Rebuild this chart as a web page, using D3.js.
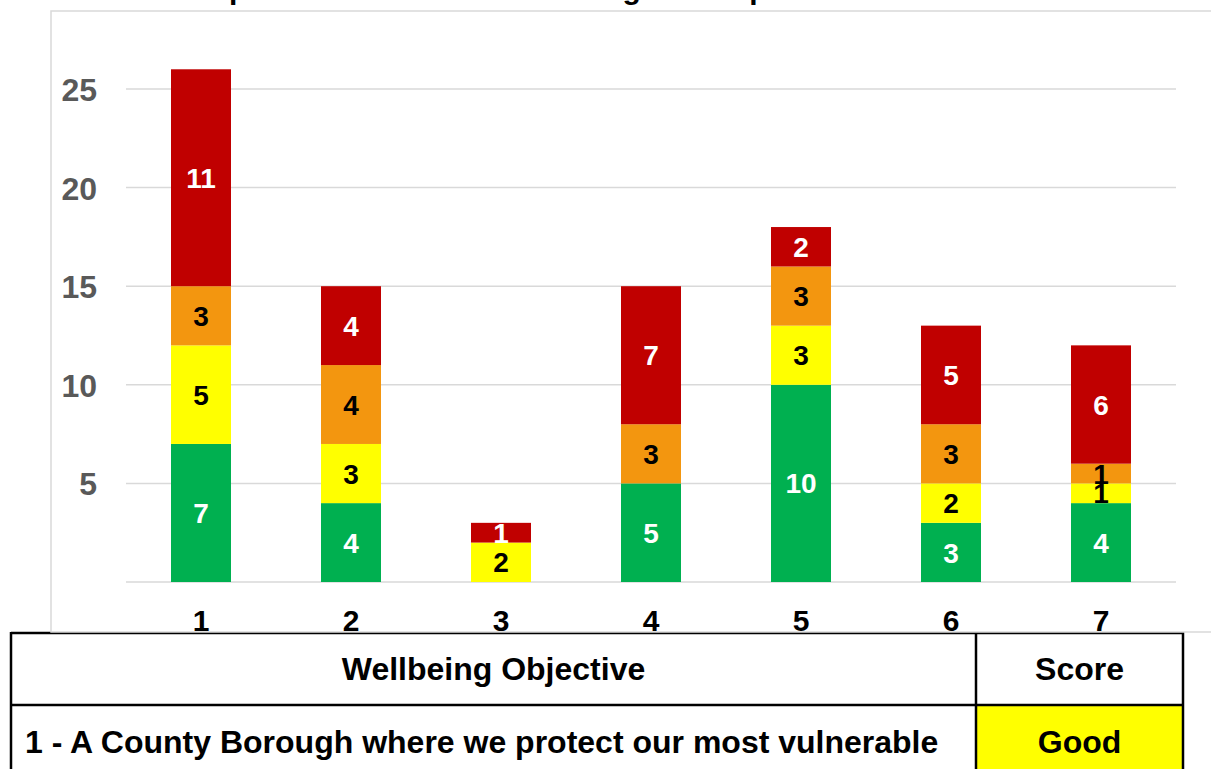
<!DOCTYPE html>
<html>
<head>
<meta charset="utf-8">
<script src="https://cdn.jsdelivr.net/npm/d3@7"></script>
<style>
  html, body { margin: 0; padding: 0; background: #ffffff; overflow: hidden; }
</style>
</head>
<body>
<script>
// Data
const categories = ['1', '2', '3', '4', '5', '6', '7'];
const green  = [7, 4, 0, 5, 10, 3, 4];
const yellow = [5, 3, 2, 0, 3, 2, 1];
const orange = [3, 4, 0, 3, 3, 3, 1];
const red    = [11, 4, 1, 7, 2, 5, 6];
const yTicks = [5, 10, 15, 20, 25];
const tableHeader = ['Wellbeing Objective', 'Score'];
const tableRow = ['1 - A County Borough where we protect our most vulnerable', 'Good'];

const W = 1211, H = 769;
const font = 'Arial, "Liberation Sans", sans-serif';

const svg = d3.select('body').append('svg')
  .attr('width', W)
  .attr('height', H)
  .attr('xmlns', 'http://www.w3.org/2000/svg');

// Table (drawn first, chart frame sits on top of it)
const tblX0 = 11, tblX1 = 976, tblX2 = 1183;
const rowY0 = 633, rowY1 = 705, rowY2 = 800;

svg.append('rect')
  .attr('x', tblX1).attr('y', rowY1)
  .attr('width', tblX2 - tblX1).attr('height', rowY2 - rowY1)
  .attr('fill', '#ffff00');

const tbl = svg.append('g')
  .attr('stroke', '#000000')
  .attr('stroke-width', 2.5)
  .attr('fill', 'none');
tbl.append('line').attr('x1', tblX0).attr('x2', tblX2).attr('y1', rowY0).attr('y2', rowY0);
tbl.append('line').attr('x1', tblX0).attr('x2', tblX2).attr('y1', rowY1).attr('y2', rowY1);
tbl.append('line').attr('x1', tblX0).attr('x2', tblX0).attr('y1', rowY0 - 1).attr('y2', rowY2);
tbl.append('line').attr('x1', tblX1).attr('x2', tblX1).attr('y1', rowY0 - 1).attr('y2', rowY2);
tbl.append('line').attr('x1', tblX2).attr('x2', tblX2).attr('y1', rowY0 - 1).attr('y2', rowY2);

const cellText = (x, y, txt, anchor) => svg.append('text')
  .attr('x', x).attr('y', y)
  .attr('text-anchor', anchor)
  .attr('font-family', font)
  .attr('font-size', 32)
  .attr('font-weight', 'bold')
  .attr('fill', '#000000')
  .text(txt);

cellText((tblX0 + tblX1) / 2, 680, tableHeader[0], 'middle');
cellText((tblX1 + tblX2) / 2, 680, tableHeader[1], 'middle');
cellText(25, 753, tableRow[0], 'start');
cellText((tblX1 + tblX2) / 2, 753, tableRow[1], 'middle');

// Chart frame
svg.append('rect')
  .attr('x', 51).attr('y', 11)
  .attr('width', 1250).attr('height', 621)
  .attr('fill', '#ffffff')
  .attr('stroke', '#d9d9d9')
  .attr('stroke-width', 1.5);

// Title (cut off at the top of the picture, only descenders show)
const title = svg.append('text')
  .attr('x', 0)
  .attr('y', -1)
  .attr('font-family', font)
  .attr('font-size', 30)
  .attr('font-weight', 'bold')
  .attr('fill', '#000000')
  .text('Corporate Plan Measures Rating Status per Outcome');
const pOffset = title.node().getSubStringLength(0, 3);
title.attr('x', 229 - pOffset);

// Scales
const x = d3.scaleBand()
  .domain(categories)
  .range([126, 1176])
  .paddingInner(0.6)
  .paddingOuter(0.3);

const y = d3.scaleLinear()
  .domain([0, 25])
  .range([582, 89]);

// Gridlines
svg.append('g')
  .selectAll('line')
  .data([0].concat(yTicks))
  .join('line')
  .attr('x1', 126)
  .attr('x2', 1176)
  .attr('y1', d => y(d))
  .attr('y2', d => y(d))
  .attr('stroke', '#d9d9d9')
  .attr('stroke-width', 1.5);

// Y axis labels
const yAxis = svg.append('g')
  .attr('transform', 'translate(97,0)')
  .call(d3.axisLeft(y).tickValues(yTicks).tickSize(0).tickPadding(0));
yAxis.select('.domain').remove();
yAxis.selectAll('text')
  .attr('font-family', font)
  .attr('font-size', 32)
  .attr('font-weight', 'bold')
  .attr('fill', '#595959')
  .attr('dy', '0.36em');

// X axis labels
const xAxis = svg.append('g')
  .attr('transform', 'translate(0,582)')
  .call(d3.axisBottom(x).tickSize(0).tickPadding(0));
xAxis.select('.domain').remove();
xAxis.selectAll('text')
  .attr('font-family', font)
  .attr('font-size', 30)
  .attr('font-weight', 'bold')
  .attr('fill', '#000000')
  .attr('dy', null)
  .attr('y', 49);

// Stacked bars
const series = [
  { key: 'green',  values: green,  color: '#00b050', text: '#ffffff' },
  { key: 'yellow', values: yellow, color: '#ffff00', text: '#000000' },
  { key: 'orange', values: orange, color: '#f3960f', text: '#000000' },
  { key: 'red',    values: red,    color: '#c00000', text: '#ffffff' }
];

const rows = categories.map((c, i) => {
  const r = { cat: c };
  series.forEach(s => { r[s.key] = s.values[i]; });
  return r;
});

const stacked = d3.stack().keys(series.map(s => s.key))(rows);

stacked.forEach((layer, li) => {
  const s = series[li];
  svg.append('g')
    .selectAll('rect')
    .data(layer.filter(d => d[1] > d[0]))
    .join('rect')
    .attr('x', d => x(d.data.cat))
    .attr('y', d => y(d[1]))
    .attr('width', x.bandwidth())
    .attr('height', d => y(d[0]) - y(d[1]))
    .attr('fill', s.color);
});

stacked.forEach((layer, li) => {
  const s = series[li];
  svg.append('g')
    .selectAll('text')
    .data(layer.filter(d => d[1] > d[0]))
    .join('text')
    .attr('x', d => x(d.data.cat) + x.bandwidth() / 2)
    .attr('y', d => y((d[0] + d[1]) / 2))
    .attr('dy', '0.36em')
    .attr('text-anchor', 'middle')
    .attr('font-family', font)
    .attr('font-size', 28)
    .attr('font-weight', 'bold')
    .attr('fill', s.text)
    .text(d => d[1] - d[0]);
});
</script>
</body>
</html>
